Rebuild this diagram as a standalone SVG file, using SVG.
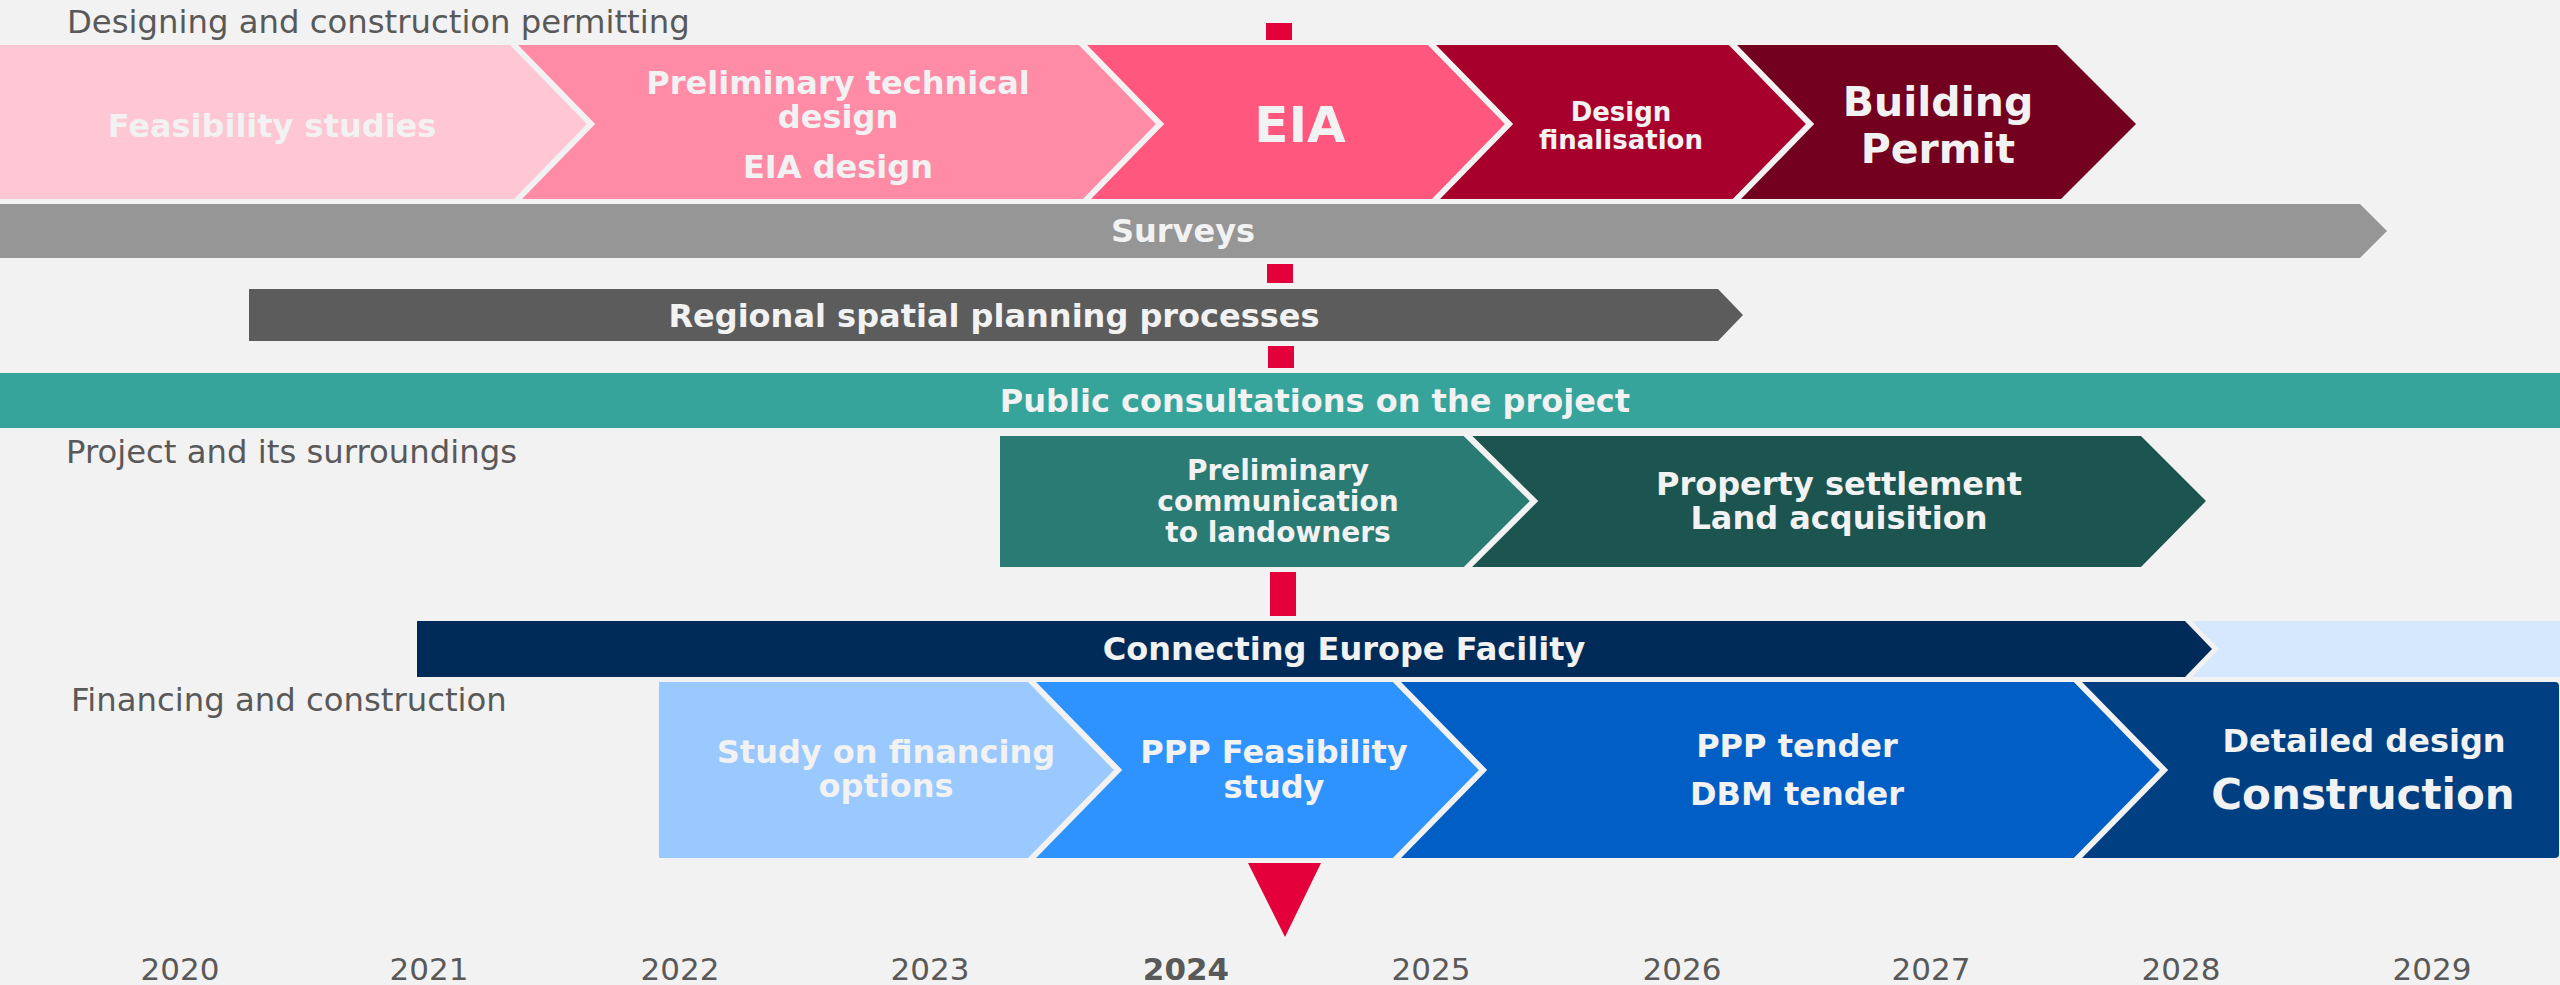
<svg xmlns="http://www.w3.org/2000/svg" width="2560" height="985" viewBox="0 0 2560 985">
<style>
text{font-family:"DejaVu Sans",Verdana,sans-serif}
.lb{font-weight:bold;fill:#f2f2f2;text-anchor:middle;font-size:32px}
.sec{fill:#595959;font-size:32.3px}
.yr{fill:#595959;font-size:31px;text-anchor:middle}
.gap{fill:none;stroke:#f2f2f2;stroke-width:6;stroke-linejoin:miter}
.red{fill:#e4003a}
</style>
<rect x="0" y="0" width="2560" height="985" fill="#f2f2f2"/>

<g id="section-labels">
<text class="sec" x="67" y="33">Designing and construction permitting</text>
<text class="sec" x="66" y="463">Project and its surroundings</text>
<text class="sec" x="71" y="711">Financing and construction</text>
</g>

<g id="today-line">
<rect class="red" x="1266" y="23" width="26" height="17"/>
<rect class="red" x="1267" y="264" width="26" height="19"/>
<rect class="red" x="1268" y="346" width="26" height="22"/>
<rect class="red" x="1270" y="572" width="26" height="44"/>
<polygon class="red" points="1248,863 1321,863 1285,937"/>
</g>

<g id="feasibility-studies">
<polygon fill="#ffc6d3" points="0,45 510,45 589,124 514,199 0,199"/>
<text class="lb" x="272" y="137">Feasibility studies</text>
</g>
<g id="preliminary-technical-design">
<polygon fill="#ff8ba7" points="510,45 1079,45 1158,124 1083,199 514,199 589,124"/>
<polyline class="gap" points="512,43 591,124 516,201"/>
<text class="lb" x="838" y="94">Preliminary technical</text>
<text class="lb" x="838" y="128">design</text>
<text class="lb" x="838" y="178">EIA design</text>
</g>
<g id="eia">
<polygon fill="#ff577d" points="1079,45 1428,45 1507,124 1432,199 1083,199 1158,124"/>
<polyline class="gap" points="1081,43 1160,124 1085,201"/>
<text class="lb" x="1300" y="142" style="font-size:50px">EIA</text>
</g>
<g id="design-finalisation">
<polygon fill="#a8002c" points="1428,45 1729,45 1808,124 1733,199 1432,199 1507,124"/>
<polyline class="gap" points="1430,43 1509,124 1434,201"/>
<text class="lb" x="1621" y="121" style="font-size:26px">Design</text>
<text class="lb" x="1621" y="149" style="font-size:26px">finalisation</text>
</g>
<g id="building-permit">
<polygon fill="#72001e" points="1729,45 2057,45 2136,124 2061,199 1733,199 1808,124"/>
<polyline class="gap" points="1731,43 1810,124 1735,201"/>
<text class="lb" x="1938" y="116" style="font-size:41px">Building</text>
<text class="lb" x="1938" y="163" style="font-size:41px">Permit</text>
</g>

<g id="surveys">
<polygon fill="#969696" points="0,204 2360,204 2387,231 2360,258 0,258"/>
<text class="lb" x="1183" y="242">Surveys</text>
</g>

<g id="regional-spatial-planning">
<polygon fill="#5c5c5c" points="249,289 1718,289 1743,315 1718,341 249,341"/>
<text class="lb" x="994" y="327">Regional spatial planning processes</text>
</g>

<g id="public-consultations">
<rect fill="#36a49b" x="0" y="373" width="2560" height="55"/>
<text class="lb" x="1315" y="412">Public consultations on the project</text>
</g>

<g id="preliminary-communication">
<polygon fill="#2a7b74" points="1000,436 1464,436 1532,501 1464,567 1000,567"/>
<text class="lb" x="1278" y="480" style="font-size:28px">Preliminary</text>
<text class="lb" x="1278" y="511" style="font-size:28px">communication</text>
<text class="lb" x="1278" y="542" style="font-size:28px">to landowners</text>
</g>
<g id="property-settlement">
<polygon fill="#1c5450" points="1464,436 2141,436 2206,501 2141,567 1464,567 1532,501"/>
<polyline class="gap" points="1466,434 1534,501 1466,569"/>
<text class="lb" x="1839" y="495">Property settlement</text>
<text class="lb" x="1839" y="529">Land acquisition</text>
</g>

<g id="connecting-europe-facility">
<polygon fill="#d5e8fd" points="2192,621 2560,621 2560,677 2192,677 2219,649"/>
<polygon fill="#002a57" points="417,621 2185,621 2212,649 2185,677 417,677"/>
<text class="lb" x="1344" y="660">Connecting Europe Facility</text>
</g>

<g id="study-on-financing">
<polygon fill="#99c9ff" points="659,682 1028,682 1116,770 1028,858 659,858"/>
<text class="lb" x="886" y="763">Study on financing</text>
<text class="lb" x="886" y="797">options</text>
</g>
<g id="ppp-feasibility-study">
<polygon fill="#2e92ff" points="1028,682 1393,682 1481,770 1393,858 1028,858 1116,770"/>
<polyline class="gap" points="1030,680 1118,770 1030,860"/>
<text class="lb" x="1274" y="763">PPP Feasibility</text>
<text class="lb" x="1274" y="798">study</text>
</g>
<g id="ppp-tender">
<polygon fill="#005ec4" points="1393,682 2074,682 2162,770 2074,858 1393,858 1481,770"/>
<polyline class="gap" points="1395,680 1483,770 1395,860"/>
<text class="lb" x="1797" y="757">PPP tender</text>
<text class="lb" x="1797" y="805">DBM tender</text>
</g>
<g id="detailed-design-construction">
<path fill="#003f82" d="M2074,682 H2555 Q2559,682 2559,686 V854 Q2559,858 2555,858 H2074 L2162,770 Z"/>
<polyline class="gap" points="2076,680 2164,770 2076,860"/>
<text class="lb" x="2364" y="752">Detailed design</text>
<text class="lb" x="2363" y="809" style="font-size:42px">Construction</text>
</g>

<g id="years">
<text class="yr" x="180" y="980">2020</text>
<text class="yr" x="429" y="980">2021</text>
<text class="yr" x="680" y="980">2022</text>
<text class="yr" x="930" y="980">2023</text>
<text class="yr" x="1186" y="980" style="font-weight:bold">2024</text>
<text class="yr" x="1431" y="980">2025</text>
<text class="yr" x="1682" y="980">2026</text>
<text class="yr" x="1931" y="980">2027</text>
<text class="yr" x="2181" y="980">2028</text>
<text class="yr" x="2432" y="980">2029</text>
</g>
</svg>
